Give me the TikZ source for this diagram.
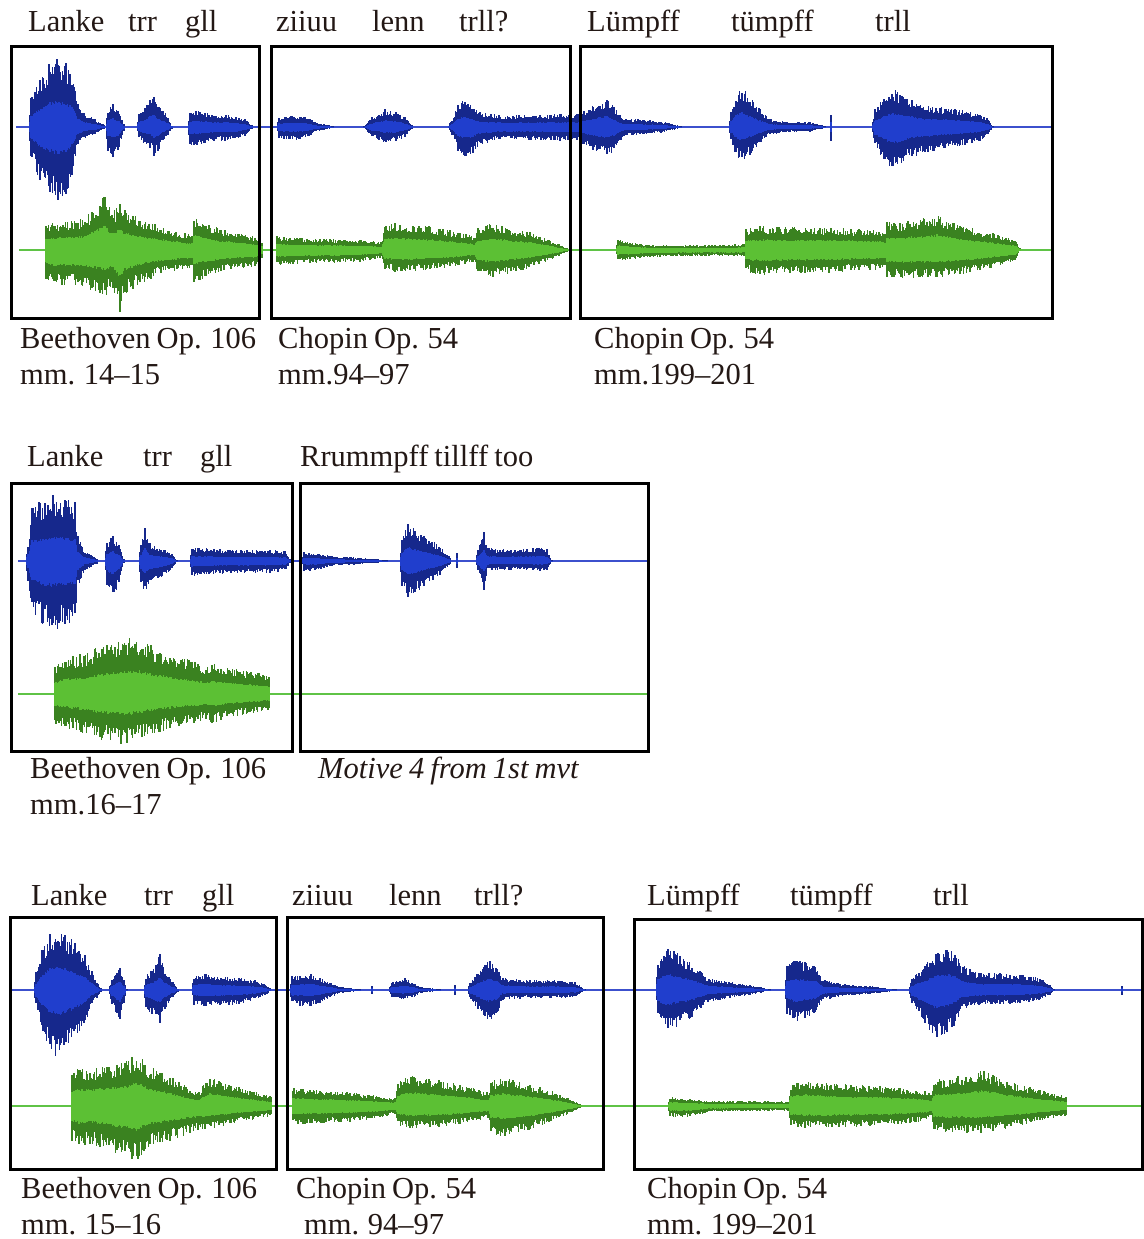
\documentclass[tikz,border=0pt]{standalone}
\usepackage{fontspec}
\setmainfont[WordSpace=0.8]{Liberation Serif}
\definecolor{bdark}{RGB}{22,40,140}
\definecolor{blight}{RGB}{32,62,205}
\definecolor{gdark}{RGB}{58,130,32}
\definecolor{glight}{RGB}{92,192,52}
\definecolor{bline}{RGB}{60,80,205}
\definecolor{gline}{RGB}{95,195,70}
\definecolor{ink}{RGB}{35,24,21}
\tikzset{
  wdb/.style={draw=bdark,line width=1.3pt},
  wlb/.style={draw=blight,line width=1.3pt},
  wdg/.style={draw=gdark,line width=1.3pt},
  wlg/.style={draw=glight,line width=1.3pt},
  bl/.style={draw=bline,line width=1.3pt},
  gl/.style={draw=gline,line width=1.3pt},
  frame/.style={draw=black,line width=3pt,inner sep=0pt,anchor=north west},
  txt/.style={anchor=base west,inner sep=0pt,text=ink,font=\fontsize{30.5}{34}\selectfont},
}
\def\winr{0.38}
\newcommand\wseg[6]{%
  \pgfmathsetmacro\wlen{(#2)-(#1)}%
  \pgfmathtruncatemacro\wns{max(2,\wlen/1.1+1)}%
  \draw[wdk,ycomb] plot[domain=#1:#2,samples=\wns] (\x,{-((#3)+((#4)-(#3))*(\x-(#1))/\wlen)*(0.66+0.34*rnd)});
  \draw[wdk,ycomb] plot[domain=#1:#2,samples=\wns] (\x,{((#5)+((#6)-(#5))*(\x-(#1))/\wlen)*(0.66+0.34*rnd)});
  \draw[wlt,ycomb] plot[domain=#1:#2,samples=\wns] (\x,{-\winr*((#3)+((#4)-(#3))*(\x-(#1))/\wlen)*(0.85+0.15*rnd)});
  \draw[wlt,ycomb] plot[domain=#1:#2,samples=\wns] (\x,{\winr*((#5)+((#6)-(#5))*(\x-(#1))/\wlen)*(0.85+0.15*rnd)});
}
\newcommand\wave[3]{%
  \begin{scope}[shift={(0,#1)}]
  \tikzset{wdk/.style={wd#2},wlt/.style={wl#2}}%
  \gdef\wfirst{1}%
  \foreach \xb/\ub/\db in {#3}{%
    \ifnum\wfirst=0 \wseg{\wxa}{\xb}{\wua}{\ub}{\wda}{\db}\fi
    \xdef\wxa{\xb}\xdef\wua{\ub}\xdef\wda{\db}\gdef\wfirst{0}%
  }%
  \end{scope}}
\begin{document}
\begin{tikzpicture}[x=1pt,y=-1pt]
\pgfmathsetseed{7}
\useasboundingbox (0,0) rectangle (1143,1239);
\fill[white] (0,0) rectangle (1143,1239);

% ---------- Row 1 ----------
\draw[bl] (16,127) -- (1052,127);
\draw[gl] (19,250) -- (1052,250);
\wave{127}{b}{28/0/0, 31/30/30, 40/50/55, 50/65/68, 58/70/73, 66/66/70, 72/55/50, 78/25/20, 84/14/12, 95/8/8, 104/2/2}
\wave{127}{b}{105/0/0, 108/20/25, 113/23/30, 118/18/24, 124/4/4, 126/0/0}
\wave{127}{b}{136/0/0, 139/15/12, 145/20/18, 150/30/22, 154/35/30, 158/22/26, 163/18/14, 168/10/8, 172/2/2}
\wave{127}{b}{187/0/0, 190/14/18, 196/17/20, 205/15/17, 215/12/14, 225/13/14, 235/11/13, 245/8/9, 252/2/2}
\wave{127}{b}{276/0/0, 279/10/11, 290/11/13, 300/12/13, 310/9/10, 315/5/5, 333/1/1}
\wave{127}{b}{363/0/0, 372/10/10, 385/18/16, 395/16/15, 405/10/10, 412/2/2}
\wave{127}{b}{447/0/0, 452/8/8, 458/22/25, 465/29/31, 472/22/28, 480/15/18, 500/12/13, 530/12/13, 560/13/14, 577/13/14, 590/20/22, 600/26/28, 607/29/30, 614/22/25, 620/12/14, 626/8/9, 640/8/8, 660/6/6, 681/1/1}
\wave{127}{b}{728/0/0, 731/15/15, 736/32/30, 742/40/36, 750/30/28, 760/18/16, 770/8/8, 790/5/5, 810/5/5, 825/1/1}
\wave{127}{b}{829/0/0, 831/15/15, 833/0/0}
\wave{127}{b}{871/0/0, 875/18/20, 884/30/35, 893/39/45, 900/35/40, 912/28/30, 925/22/26, 945/20/22, 965/17/18, 980/14/14, 988/8/8, 993/1/1}
\def\winr{0.45}
\wave{250}{g}{44/0/0, 46/25/30, 55/28/37, 70/30/35, 85/32/38, 100/50/45, 105/55/47, 112/38/40, 120/47/62, 125/40/45, 140/32/35, 160/25/25, 185/17/20, 192/15/18, 194/35/33, 205/28/28, 220/22/22, 240/17/18, 255/13/17, 262/10/10, 264/0/0}
\wave{250}{g}{275/0/0, 277/14/16, 300/12/14, 330/11/13, 360/10/12, 381/8/8, 385/25/20, 395/28/22, 410/26/22, 430/24/20, 450/20/18, 474/14/12, 478/22/24, 493/27/28, 510/22/24, 530/18/18, 550/10/10, 567/2/2}
\wave{250}{g}{615/0/0, 618/11/11, 630/8/10, 650/5/7, 700/5/6, 744/6/6, 746/22/22, 760/24/25, 800/23/24, 840/22/22, 880/20/20, 885/18/18, 887/28/28, 900/28/28, 937/35/28, 960/25/25, 990/18/18, 1015/10/12, 1020/2/2}
\def\winr{0.38}
\node[frame,minimum width=248pt,minimum height=272pt] (b11) at (10,45) {};
\node[frame,minimum width=299pt,minimum height=272pt] (b12) at (270,45) {};
\node[frame,minimum width=472pt,minimum height=272pt] (b13) at (579,45) {};
\node[txt] (t11) at (28,32) {Lanke};
\node[txt] (t12) at (128,32) {trr};
\node[txt] (t13) at (185,32) {gll};
\node[txt] (t14) at (276,32) {ziiuu};
\node[txt] (t15) at (372,32) {lenn};
\node[txt] (t16) at (459,32) {trll?};
\node[txt] (t17) at (587,32) {Lümpff};
\node[txt] (t18) at (731,32) {tümpff};
\node[txt] (t19) at (875,32) {trll};
\node[txt] (c11) at (20,348) {Beethoven Op. 106};
\node[txt] (c12) at (20,384) {mm. 14–15};
\node[txt] (c13) at (278,348) {Chopin Op. 54};
\node[txt] (c14) at (278,384) {mm.94–97};
\node[txt] (c15) at (594,348) {Chopin Op. 54};
\node[txt] (c16) at (594,384) {mm.199–201};

% ---------- Row 2 ----------
\draw[bl] (18,561) -- (648,561);
\draw[gl] (18,694) -- (648,694);
\wave{561}{b}{25/0/0, 28/20/20, 32/55/55, 45/62/65, 53/69/69, 65/62/66, 75/60/60, 78/25/25, 85/10/10, 97/3/3}
\wave{561}{b}{104/0/0, 107/20/28, 113/26/36, 119/18/25, 124/2/2}
\wave{561}{b}{138/0/0, 141/20/25, 145/36/34, 150/18/22, 157/14/20, 165/12/14, 172/8/8, 177/1/1}
\wave{561}{b}{189/0/0, 192/14/16, 200/13/15, 220/12/13, 250/11/12, 270/11/12, 285/10/10, 290/3/3}
\wave{561}{b}{301/0/0, 304/9/10, 315/8/10, 332/5/5, 350/4/4, 387/1/1}
\wave{561}{b}{399/0/0, 402/25/25, 408/39/37, 415/32/32, 425/25/25, 440/15/15, 450/4/4}
\wave{561}{b}{455/0/0, 457/8/8, 459/0/0}
\wave{561}{b}{475/0/0, 478/14/10, 484/29/29, 488/14/10, 500/12/9, 520/12/9, 540/14/10, 547/12/9, 552/1/1}
\def\winr{0.42}
\wave{694}{g}{53/0/0, 55/30/30, 65/37/33, 80/40/38, 100/48/46, 115/52/48, 126/55/51, 135/59/48, 150/50/42, 170/42/35, 190/35/30, 206/29/26, 212/32/30, 230/27/24, 250/23/20, 269/20/16, 270/0/0}
\def\winr{0.38}
\node[frame,minimum width=281pt,minimum height=268pt] (b21) at (10,482) {};
\node[frame,minimum width=348pt,minimum height=268pt] (b22) at (299,482) {};
\node[txt] (t21) at (27,466) {Lanke};
\node[txt] (t22) at (143,466) {trr};
\node[txt] (t23) at (200,466) {gll};
\node[txt] (t24) at (300,466) {Rrummpff tillff too};
\node[txt] (c21) at (30,778) {Beethoven Op. 106};
\node[txt] (c22) at (30,814) {mm.16–17};
\node[txt,font=\fontsize{30.5}{34}\selectfont\itshape] (c23) at (318,778) {Motive 4 from 1st mvt};

% ---------- Row 3 ----------
\draw[bl] (10,990) -- (1143,990);
\draw[gl] (10,1106) -- (1143,1106);
\wave{990}{b}{33/0/0, 36/18/18, 42/40/42, 50/58/60, 57/63/69, 65/58/62, 75/48/50, 85/35/35, 92/20/15, 97/8/8, 101/2/2}
\wave{990}{b}{108/0/0, 112/12/15, 117/20/28, 120/23/33, 124/10/14, 127/1/1}
\wave{990}{b}{143/0/0, 146/15/20, 152/20/25, 156/25/30, 160/37/33, 165/20/20, 172/10/10, 178/2/2}
\wave{990}{b}{191/0/0, 194/14/15, 206/17/17, 220/14/16, 240/12/14, 255/10/10, 265/6/6, 270/2/2}
\wave{990}{b}{289/0/0, 292/14/15, 300/15/16, 310/17/17, 320/12/13, 330/8/8, 340/3/3, 360/1/1}
\wave{990}{b}{371/0/0, 372/5/5, 374/0/0}
\wave{990}{b}{388/0/0, 392/8/8, 400/10/10, 405/12/10, 412/9/8, 421/3/3, 440/1/1}
\wave{990}{b}{454/0/0, 455/6/6, 457/0/0}
\wave{990}{b}{467/0/0, 470/8/8, 478/18/20, 485/28/30, 490/32/32, 496/25/28, 503/13/10, 530/10/8, 560/10/8, 575/8/7, 585/1/1}
\wave{990}{b}{655/0/0, 658/30/30, 664/40/40, 668/45/42, 680/35/35, 692/28/28, 700/20/20, 709/12/12, 730/8/8, 750/5/5, 770/1/1}
\wave{990}{b}{784/0/0, 787/25/25, 795/30/32, 805/28/28, 815/25/25, 824/10/10, 845/6/6, 870/4/4, 896/1/1}
\wave{990}{b}{908/0/0, 912/12/15, 925/25/35, 937/40/50, 947/43/45, 955/38/35, 962/25/20, 980/17/15, 1000/17/15, 1020/16/14, 1040/12/10, 1050/5/5, 1054/1/1}
\wave{990}{b}{1120/0/0, 1122/5/5, 1124/0/0}
\def\winr{0.45}
\wave{1106}{g}{70/0/0, 72/35/35, 79/39/41, 90/37/38, 110/42/45, 125/45/50, 138/54/56, 150/40/40, 170/30/35, 190/18/28, 198/13/25, 206/25/24, 210/29/24, 230/22/18, 250/16/14, 271/10/10, 272/0/0}
\wave{1106}{g}{291/0/0, 293/18/19, 320/16/18, 350/14/16, 380/10/12, 395/8/8, 398/25/20, 410/31/22, 430/28/22, 460/22/18, 488/14/12, 491/25/28, 505/29/31, 530/22/24, 560/12/12, 581/2/2}
\wave{1106}{g}{667/0/0, 670/9/11, 690/7/11, 710/5/6, 760/5/5, 788/5/5, 791/24/20, 805/26/22, 840/22/22, 880/20/20, 925/16/16, 931/12/12, 934/26/25, 950/28/27, 984/36/27, 1010/25/22, 1040/16/15, 1066/10/10, 1067/0/0}
\node[frame,minimum width=266pt,minimum height=252pt] (b31) at (9,916) {};
\node[frame,minimum width=316pt,minimum height=252pt] (b32) at (286,916) {};
\node[frame,minimum width=508pt,minimum height=250pt] (b33) at (633,918) {};
\node[txt] (t31) at (31,905) {Lanke};
\node[txt] (t32) at (144,905) {trr};
\node[txt] (t33) at (202,905) {gll};
\node[txt] (t34) at (292,905) {ziiuu};
\node[txt] (t35) at (389,905) {lenn};
\node[txt] (t36) at (474,905) {trll?};
\node[txt] (t37) at (647,905) {Lümpff};
\node[txt] (t38) at (790,905) {tümpff};
\node[txt] (t39) at (933,905) {trll};
\node[txt] (c31) at (21,1198) {Beethoven Op. 106};
\node[txt] (c32) at (21,1234) {mm. 15–16};
\node[txt] (c33) at (296,1198) {Chopin Op. 54};
\node[txt] (c34) at (304,1234) {mm. 94–97};
\node[txt] (c35) at (647,1198) {Chopin Op. 54};
\node[txt] (c36) at (647,1234) {mm. 199–201};
\end{tikzpicture}
\end{document}
